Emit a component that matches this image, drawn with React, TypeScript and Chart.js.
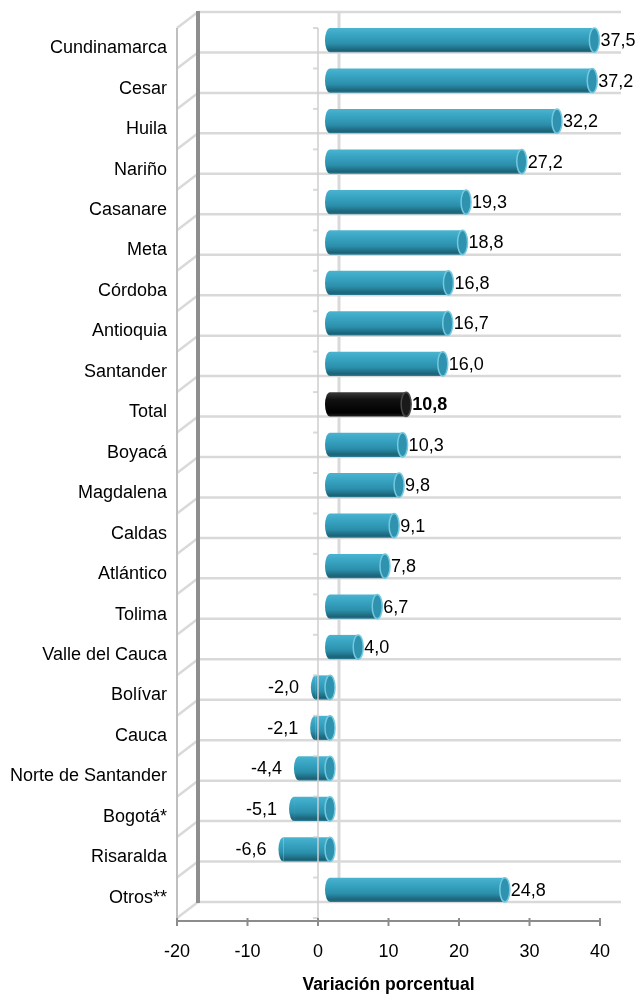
import React, { useEffect, useRef } from 'react';
import { Chart, registerables } from 'chart.js';

Chart.register(...registerables);

const categories = [
  'Cundinamarca', 'Cesar', 'Huila', 'Nariño', 'Casanare', 'Meta', 'Córdoba', 'Antioquia',
  'Santander', 'Total', 'Boyacá', 'Magdalena', 'Caldas', 'Atlántico', 'Tolima',
  'Valle del Cauca', 'Bolívar', 'Cauca', 'Norte de Santander', 'Bogotá*', 'Risaralda', 'Otros**',
];
const values = [
  37.5, 37.2, 32.2, 27.2, 19.3, 18.8, 16.8, 16.7, 16.0, 10.8, 10.3, 9.8, 9.1, 7.8, 6.7, 4.0,
  -2.0, -2.1, -4.4, -5.1, -6.6, 24.8,
];
const xTickValues = [-20, -10, 0, 10, 20, 30, 40];
const highlightCategory = 'Total';
const axisTitle = 'Variación porcentual';

const FONT = '"Liberation Sans", Arial, sans-serif';
const WALL_DX = 21;
const WALL_DY = -16;
const BAR_DX = 12;
const BAR_DY = -8;
const CAP_RX = 5;

const fmt = (v: number) => v.toFixed(1).replace('.', ',');

function barGradient(ctx: CanvasRenderingContext2D, yc: number, h: number, dark: boolean) {
  const g = ctx.createLinearGradient(0, yc - h / 2, 0, yc + h / 2);
  if (dark) {
    g.addColorStop(0, '#3a3a3a');
    g.addColorStop(0.3, '#111111');
    g.addColorStop(0.85, '#000000');
    g.addColorStop(1, '#222222');
  } else {
    g.addColorStop(0, '#4AB4D0');
    g.addColorStop(0.3, '#38A4C2');
    g.addColorStop(0.65, '#2B8FAB');
    g.addColorStop(0.92, '#1C6276');
    g.addColorStop(1, '#2B8199');
  }
  return g;
}

export default function App() {
  const ref = useRef<HTMLCanvasElement>(null);

  useEffect(() => {
    const canvas = ref.current!;

    const plugin = {
      id: 'bars3d',
      beforeDatasetsDraw(chart: any) {
        const { ctx, chartArea: a, scales } = chart;
        const n = categories.length;
        const step = (a.bottom - a.top) / n;
        ctx.save();
        ctx.lineCap = 'butt';
        ctx.strokeStyle = '#D9D9D9';
        ctx.lineWidth = 2.5;
        for (let k = 0; k <= n; k++) {
          const yy = a.top + k * step;
          ctx.beginPath();
          ctx.moveTo(a.left + WALL_DX, yy + WALL_DY);
          ctx.lineTo(a.right + WALL_DX, yy + WALL_DY);
          ctx.stroke();
          ctx.beginPath();
          ctx.moveTo(a.left, yy);
          ctx.lineTo(a.left + WALL_DX, yy + WALL_DY);
          ctx.stroke();
        }
        const x0 = scales.x.getPixelForValue(0);
        ctx.lineWidth = 3;
        ctx.beginPath();
        ctx.moveTo(x0 + WALL_DX, a.top + WALL_DY);
        ctx.lineTo(x0 + WALL_DX, a.bottom + WALL_DY);
        ctx.stroke();
        // back-left edge
        ctx.strokeStyle = '#8E8E8E';
        ctx.lineWidth = 4;
        ctx.beginPath();
        ctx.moveTo(a.left + WALL_DX, a.top + WALL_DY - 1);
        ctx.lineTo(a.left + WALL_DX, a.bottom + WALL_DY + 1);
        ctx.stroke();
        // front-left edge
        ctx.strokeStyle = '#BFBFBF';
        ctx.lineWidth = 2;
        ctx.beginPath();
        ctx.moveTo(a.left, a.top);
        ctx.lineTo(a.left, a.bottom + 3);
        ctx.stroke();
        ctx.restore();

        ctx.save();
        ctx.translate(BAR_DX, BAR_DY);
      },
      afterDatasetsDraw(chart: any) {
        const { ctx, chartArea: a, scales } = chart;
        const meta = chart.getDatasetMeta(0);
        meta.data.forEach((el: any, i: number) => {
          const { x, y, base, height } = el.getProps(['x', 'y', 'base', 'height'], true);
          const dark = categories[i] === highlightCategory;
          const left = Math.min(x, base);
          const right = Math.max(x, base);
          const h = height;
          ctx.save();
          ctx.fillStyle = barGradient(ctx, y, h, dark);
          ctx.beginPath();
          ctx.ellipse(left, y, CAP_RX, h / 2, 0, Math.PI / 2, Math.PI * 1.5);
          ctx.closePath();
          ctx.fill();
          ctx.beginPath();
          ctx.ellipse(right, y, CAP_RX, h / 2, 0, 0, Math.PI * 2);
          ctx.fillStyle = dark ? '#1a1a1a' : '#2F92AE';
          ctx.fill();
          ctx.lineWidth = 1.5;
          ctx.strokeStyle = dark ? '#4a4a4a' : '#73C9E0';
          ctx.stroke();
          ctx.restore();
        });
        ctx.restore();

        const n = categories.length;
        const step = (a.bottom - a.top) / n;
        const x0 = scales.x.getPixelForValue(0);
        ctx.save();
        ctx.strokeStyle = 'rgba(205,205,205,0.75)';
        ctx.lineWidth = 2;
        ctx.beginPath();
        ctx.moveTo(x0, a.top);
        ctx.lineTo(x0, a.bottom + 3);
        ctx.stroke();
        for (let k = 0; k <= n; k++) {
          const yy = a.top + k * step;
          ctx.beginPath();
          ctx.moveTo(x0 - 5, yy);
          ctx.lineTo(x0, yy);
          ctx.stroke();
        }
        ctx.strokeStyle = '#8C8C8C';
        ctx.lineWidth = 2;
        ctx.beginPath();
        ctx.moveTo(a.left - 1, a.bottom + 3);
        ctx.lineTo(a.right + 1, a.bottom + 3);
        ctx.stroke();
        xTickValues.forEach((v) => {
          const px = scales.x.getPixelForValue(v);
          ctx.beginPath();
          ctx.moveTo(px, a.bottom);
          ctx.lineTo(px, a.bottom + 8);
          ctx.stroke();
        });

        ctx.fillStyle = '#000';
        ctx.textBaseline = 'middle';
        meta.data.forEach((el: any, i: number) => {
          const { x, y } = el.getProps(['x', 'y'], true);
          const v = values[i];
          const dark = categories[i] === highlightCategory;
          ctx.font = `${dark ? 'bold ' : ''}18px ${FONT}`;
          const ly = y + BAR_DY + 1;
          if (v >= 0) {
            ctx.textAlign = 'left';
            ctx.fillText(fmt(v), x + BAR_DX + CAP_RX + 1, ly);
          } else {
            ctx.textAlign = 'right';
            ctx.fillText(fmt(v), x - 5, ly);
          }
        });
        ctx.restore();
      },
    };

    const chart = new Chart(canvas, {
      type: 'bar',
      data: {
        labels: categories,
        datasets: [
          {
            data: values,
            backgroundColor: (c: any) => {
              const dark = categories[c.dataIndex] === highlightCategory;
              if (c.type !== 'data' || !c.chart.chartArea) return dark ? '#000' : '#2E98B5';
              const yc = c.chart.scales.y.getPixelForValue(c.dataIndex);
              return barGradient(c.chart.ctx, yc, 24.3, dark);
            },
            borderWidth: 0,
            borderSkipped: false,
            barPercentage: 0.6,
            categoryPercentage: 1,
          },
        ],
      },
      options: {
        indexAxis: 'y',
        responsive: false,
        animation: false,
        events: [],
        layout: { padding: { left: 0, top: 28, right: 36, bottom: 0 } },
        plugins: { legend: { display: false }, tooltip: { enabled: false }, title: { display: false } },
        scales: {
          x: {
            type: 'linear',
            min: -20,
            max: 40,
            afterBuildTicks: (s: any) => {
              s.ticks = xTickValues.map((v) => ({ value: v }));
            },
            afterFit: (s: any) => {
              s.height = 79;
            },
            grid: { display: false, drawTicks: false },
            border: { display: false },
            ticks: {
              padding: 23,
              color: '#000',
              font: { family: FONT, size: 18 },
              callback: (v: any) => String(v),
              maxRotation: 0,
              autoSkip: false,
            },
            title: {
              display: true,
              text: axisTitle,
              color: '#000',
              font: { family: FONT, size: 17.5, weight: 'bold' },
              padding: { top: 4, bottom: 1 },
            },
          },
          y: {
            type: 'category',
            afterFit: (s: any) => {
              s.width = 177;
            },
            grid: { display: false, drawTicks: false },
            border: { display: false },
            ticks: {
              padding: 10,
              color: '#000',
              autoSkip: false,
              font: { family: FONT, size: 18 },
            },
          },
        },
      },
      plugins: [plugin],
    } as any);

    return () => chart.destroy();
  }, []);

  return (
    <div style={{ position: 'absolute', left: 0, top: 0, width: 636, height: 997 }}>
      <canvas ref={ref} width={636} height={997} style={{ display: 'block', width: 636, height: 997 }} />
    </div>
  );
}
